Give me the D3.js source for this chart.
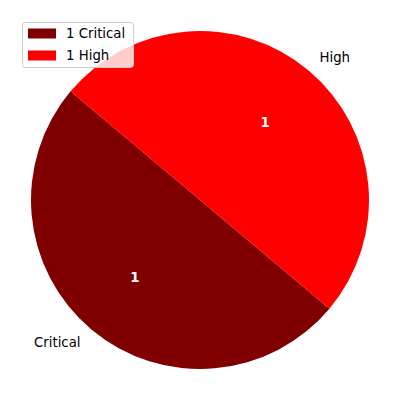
<!DOCTYPE html>
<html><head><meta charset="utf-8">
<script src="https://cdn.jsdelivr.net/npm/d3@7"></script>
<style>body{margin:0;background:#fff}svg{display:block}text{font-family:"DejaVu Sans",sans-serif}</style>
</head><body>
<svg id="c" width="400" height="400"></svg>
<script>
const categories = ["Critical", "High"];
const values = [1, 1];
const colors = ["#800000", "#ff0000"];
const legendLabels = ["1 Critical", "1 High"];
const pctLabels = ["1", "1"];

const svg = d3.select("#c");
const cx = 200, cy = 200, R = 169;
const startDeg = 140;
const g = svg.append("g").attr("transform", `translate(${cx},${cy})`);

// matplotlib: counterclockwise from startangle (math angle). d3 angles: clockwise from 12 o'clock.
// math angle a -> d3 angle = 90 - a (degrees)
const total = d3.sum(values);
const angScale = d3.scaleLinear().domain([0, total]).range([startDeg, startDeg + 360]);
let cum = 0;
const slices = values.map((v, i) => {
  const a0 = angScale(cum), a1 = angScale(cum + v);
  cum += v;
  return {i, a0, a1};
});
const toRad = d => d * Math.PI / 180;
const arc = d3.arc().innerRadius(0).outerRadius(R);
slices.forEach(s => {
  g.append("path")
    .attr("d", arc({startAngle: toRad(90 - s.a1), endAngle: toRad(90 - s.a0)}))
    .attr("fill", colors[s.i]);
  const mid = toRad((s.a0 + s.a1) / 2);
  const lx = 1.1 * R * Math.cos(mid), ly = -1.1 * R * Math.sin(mid);
  g.append("text").attr("x", lx).attr("y", ly).attr("dy", "0.35em")
    .attr("text-anchor", lx < 0 ? "end" : "start")
    .attr("font-size", 13.3).attr("fill", "#000").text(categories[s.i]);
  const px = 0.6 * R * Math.cos(mid), py = -0.6 * R * Math.sin(mid);
  g.append("text").attr("x", px).attr("y", py).attr("dy", "0.35em")
    .attr("text-anchor", "middle").attr("font-weight", "bold")
    .attr("font-size", 13.3).attr("fill", "#fff").text(pctLabels[s.i]);
});

// legend
const lg = svg.append("g");
lg.append("rect").attr("x", 22.5).attr("y", 22.5).attr("width", 111).attr("height", 45)
  .attr("rx", 3).attr("fill", "#fff").attr("fill-opacity", 0.8).attr("stroke", "#cccccc");
legendLabels.forEach((t, i) => {
  const y = 28.5 + i * 22;
  lg.append("rect").attr("x", 28).attr("y", y).attr("width", 28).attr("height", 10)
    .attr("fill", colors[i]);
  lg.append("text").attr("x", 66).attr("y", y + 5).attr("dy", "0.35em")
    .attr("font-size", 13.3).attr("fill", "#000").text(t);
});
</script>
</body></html>
